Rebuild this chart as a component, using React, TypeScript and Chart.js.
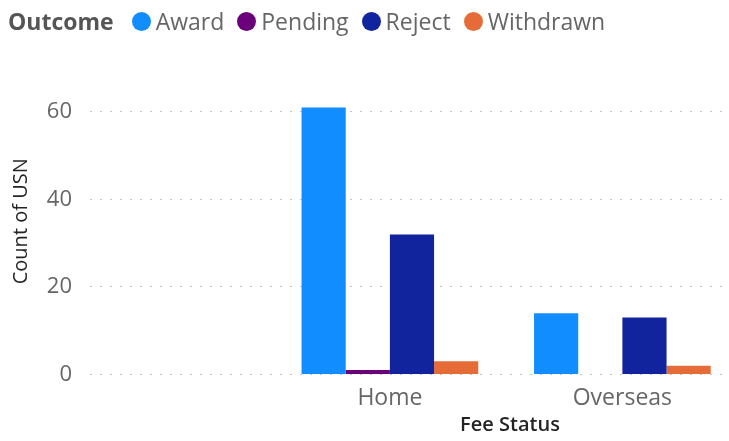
import React, { useEffect, useRef } from "react";
import { Chart, registerables } from "chart.js";

Chart.register(...registerables);

// ---- data ----
const categories: string[] = ["", "Home", "Overseas"];
const outcomes: string[] = ["Award", "Pending", "Reject", "Withdrawn"];
const awardValues: (number | null)[] = [null, 61, 14];
const pendingValues: (number | null)[] = [null, 1, null];
const rejectValues: (number | null)[] = [null, 32, 13];
const withdrawnValues: (number | null)[] = [null, 3, 2];
const yTickValues: number[] = [0, 20, 40, 60];
const yAxisMax = 70;
const xAxisMin = -0.29;
const xAxisMax = 2.45;

const seriesColors: string[] = ["#118DFF", "#6B007B", "#12239E", "#E66C37"];
const FONT = "'Open Sans', 'Noto Sans', sans-serif";

export default function App() {
  const canvasRef = useRef<HTMLCanvasElement | null>(null);

  useEffect(() => {
    const canvas = canvasRef.current;
    if (!canvas) return;
    const seriesValues = [awardValues, pendingValues, rejectValues, withdrawnValues];
    const chart = new Chart(canvas, {
      type: "bar",
      data: {
        labels: categories.map((_, i) => i),
        datasets: outcomes.map((name, i) => ({
          label: name,
          data: seriesValues[i],
          backgroundColor: seriesColors[i],
          borderWidth: 0,
          barPercentage: 1,
          categoryPercentage: 0.76,
        })),
      },
      options: {
        responsive: false,
        animation: false,
        layout: { padding: { top: 68, right: 2, left: 0, bottom: 0 } },
        plugins: {
          legend: { display: false },
          tooltip: { enabled: false },
        },
        scales: {
          x: {
            type: "linear",
            offset: false,
            min: xAxisMin,
            max: xAxisMax,
            afterBuildTicks: (s: any) => {
              s.ticks = categories
                .map((_, i) => ({ value: i }))
                .filter((t) => categories[t.value] !== "");
            },
            afterFit: (s: any) => {
              s.height = 66.5;
            },
            ticks: {
              callback: (v: any) => categories[v as number] ?? "",
              color: "#666666",
              font: { family: FONT, size: 23 },
              padding: 10,
              autoSkip: false,
              maxRotation: 0,
            },
            grid: { display: false, drawTicks: false, offset: false },
            border: { display: false },
          },
          y: {
            min: 0,
            max: yAxisMax,
            afterBuildTicks: (s: any) => {
              s.ticks = yTickValues.map((v) => ({ value: v }));
            },
            afterFit: (s: any) => {
              s.width = 90;
            },
            ticks: {
              color: "#666666",
              font: { family: FONT, size: 22 },
              padding: 18,
            },
            grid: { color: "#C8C6C4", lineWidth: 1, drawTicks: false },
            border: { display: false, dash: [2, 8] },
            title: {
              display: true,
              text: "Count of USN",
              color: "#252423",
              font: { family: FONT, size: 20 },
              padding: { top: 9, bottom: 0 },
            },
          },
        },
      } as any,
    });
    return () => chart.destroy();
  }, []);

  const legendItem = (name: string, color: string) => (
    <div key={name} style={{ display: "flex", alignItems: "center", marginRight: 13 }}>
      <span
        style={{
          width: 19,
          height: 19,
          borderRadius: "50%",
          background: color,
          display: "inline-block",
          marginRight: 5,
        }}
      />
      <span>{name}</span>
    </div>
  );

  return (
    <div
      style={{
        position: "fixed",
        left: 0,
        top: 0,
        width: 729,
        height: 441,
        background: "#ffffff",
        overflow: "hidden",
      }}
    >
      <canvas ref={canvasRef} width={729} height={441} style={{ display: "block" }} />
      <div
        style={{
          position: "absolute",
          left: 8,
          top: 6,
          height: 30,
          display: "flex",
          alignItems: "center",
          fontFamily: FONT,
          fontSize: 23,
          color: "#666666",
          whiteSpace: "nowrap",
        }}
      >
        <span style={{ fontWeight: 700, color: "#555555", marginRight: 18 }}>Outcome</span>
        {outcomes.map((o, i) => legendItem(o, seriesColors[i]))}
      </div>
      <div
        style={{
          position: "absolute",
          left: 510,
          top: 411,
          transform: "translateX(-50%)",
          fontFamily: FONT,
          fontSize: 20,
          fontWeight: 600,
          color: "#252423",
          whiteSpace: "nowrap",
          lineHeight: "26px",
        }}
      >
        Fee Status
      </div>
    </div>
  );
}
